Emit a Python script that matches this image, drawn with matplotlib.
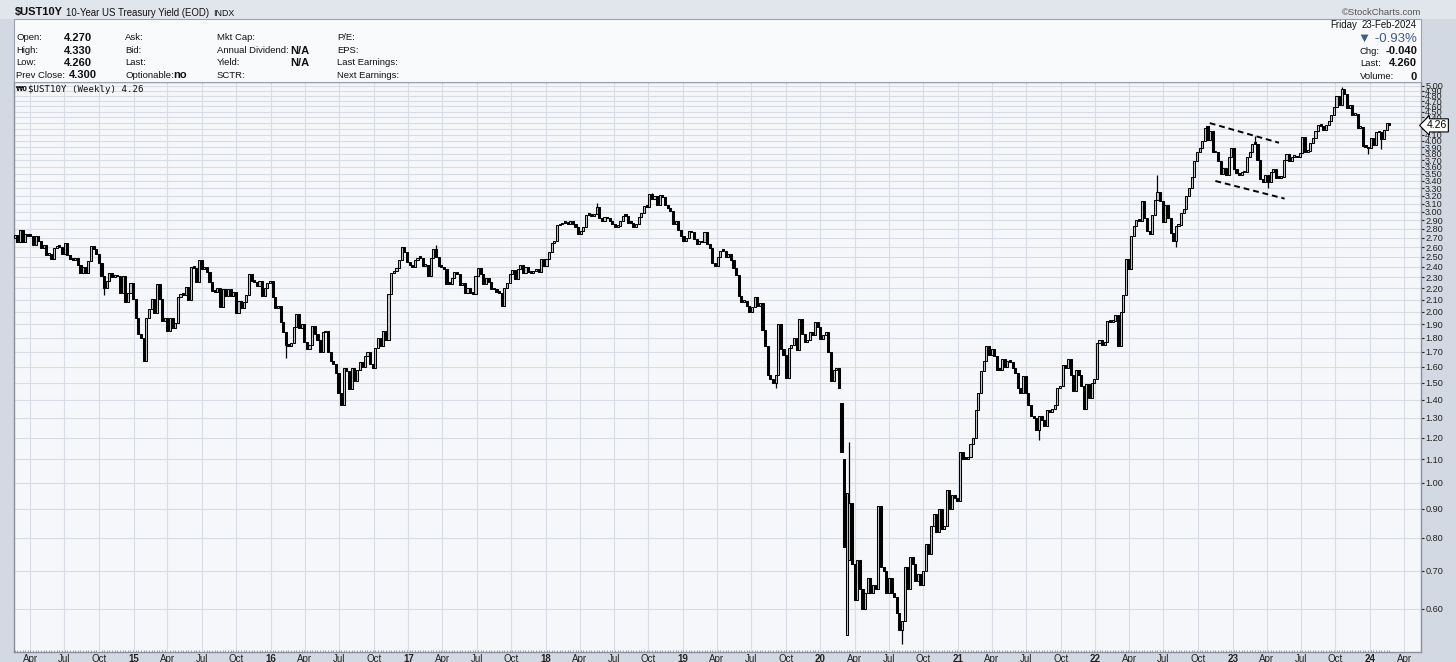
import datetime as dt
import numpy as np
import matplotlib
matplotlib.use("Agg")
import matplotlib.pyplot as plt
import matplotlib.dates as mdates
from matplotlib.patches import Rectangle
from matplotlib.ticker import FixedLocator, NullLocator

W, H = 1456, 662

# ---------------- data (weekly, week ending Friday) ----------------
first_week_end = "2014-02-21"
first_open = 2.70

close_2014 = [2.73, 2.65, 2.79, 2.65, 2.74, 2.72, 2.72, 2.62, 2.72, 2.66, 2.59, 2.62, 2.52, 2.53, 2.48,
              2.59, 2.60, 2.60, 2.53, 2.64, 2.52, 2.48, 2.47, 2.49, 2.42, 2.34, 2.40, 2.34, 2.46, 2.61,
              2.58, 2.53, 2.44, 2.31, 2.20, 2.27, 2.34, 2.30, 2.32, 2.31, 2.16, 2.31, 2.08, 2.16, 2.25]
close_2015 = [2.11, 1.95, 1.83, 1.80, 1.64, 1.95, 2.02, 2.11, 1.99, 2.24, 2.11, 1.93, 1.95, 1.85, 1.95,
              1.87, 1.91, 2.12, 2.15, 2.14, 2.21, 2.10, 2.40, 2.39, 2.26, 2.47, 2.38, 2.40, 2.35, 2.26,
              2.18, 2.17, 2.20, 2.04, 2.19, 2.13, 2.19, 2.13, 2.17, 1.99, 2.09, 2.03, 2.08, 2.14, 2.33,
              2.27, 2.26, 2.22, 2.27, 2.13, 2.20, 2.25]
close_2016 = [2.27, 2.12, 2.03, 2.05, 1.92, 1.84, 1.75, 1.74, 1.76, 1.88, 1.98, 1.87, 1.90, 1.77, 1.72,
              1.75, 1.89, 1.83, 1.78, 1.70, 1.84, 1.85, 1.70, 1.64, 1.62, 1.56, 1.44, 1.37, 1.59, 1.57,
              1.46, 1.59, 1.51, 1.58, 1.63, 1.60, 1.67, 1.70, 1.62, 1.59, 1.73, 1.80, 1.74, 1.85, 1.78,
              2.15, 2.34, 2.36, 2.39, 2.47, 2.60, 2.55, 2.45]
close_2017 = [2.42, 2.40, 2.47, 2.49, 2.49, 2.41, 2.42, 2.31, 2.49, 2.58, 2.50, 2.41, 2.40, 2.38, 2.24,
              2.24, 2.29, 2.35, 2.33, 2.23, 2.25, 2.16, 2.20, 2.16, 2.15, 2.31, 2.39, 2.33, 2.24, 2.29,
              2.26, 2.19, 2.19, 2.17, 2.16, 2.05, 2.20, 2.25, 2.33, 2.37, 2.28, 2.38, 2.42, 2.34, 2.40,
              2.35, 2.34, 2.36, 2.38, 2.35, 2.48, 2.41]
close_2018 = [2.48, 2.55, 2.64, 2.66, 2.84, 2.85, 2.87, 2.87, 2.86, 2.89, 2.85, 2.82, 2.74, 2.77, 2.82,
              2.96, 2.96, 2.95, 2.97, 3.06, 2.93, 2.89, 2.94, 2.92, 2.89, 2.85, 2.82, 2.83, 2.89, 2.95,
              2.95, 2.87, 2.87, 2.82, 2.86, 2.94, 2.99, 3.07, 3.06, 3.23, 3.16, 3.20, 3.08, 3.21, 3.19,
              3.08, 3.05, 3.01, 2.85, 2.89, 2.79, 2.72]
close_2019 = [2.67, 2.70, 2.78, 2.76, 2.69, 2.63, 2.66, 2.65, 2.76, 2.63, 2.59, 2.44, 2.41, 2.50, 2.56,
              2.56, 2.50, 2.53, 2.47, 2.39, 2.32, 2.13, 2.08, 2.09, 2.05, 2.00, 2.04, 2.12, 2.05, 2.07,
              1.86, 1.74, 1.55, 1.52, 1.50, 1.55, 1.90, 1.72, 1.68, 1.53, 1.73, 1.75, 1.80, 1.71, 1.94,
              1.83, 1.77, 1.78, 1.84, 1.82, 1.92, 1.88]
close_2020 = [1.79, 1.82, 1.84, 1.70, 1.51, 1.58, 1.59, 1.47, 1.13, 0.77, 0.96, 0.92, 0.72, 0.62, 0.73,
              0.65, 0.60, 0.64, 0.68, 0.64, 0.66, 0.65, 0.91, 0.71, 0.70, 0.64, 0.68, 0.64, 0.63, 0.59,
              0.55, 0.57, 0.71, 0.65, 0.74, 0.72, 0.67, 0.69, 0.66, 0.70, 0.78, 0.75, 0.84, 0.88, 0.82,
              0.90, 0.83, 0.84, 0.97, 0.90, 0.95, 0.94]
close_2021 = [0.93, 1.13, 1.10, 1.10, 1.11, 1.17, 1.20, 1.34, 1.44, 1.57, 1.64, 1.74, 1.68, 1.72, 1.67,
              1.58, 1.58, 1.65, 1.60, 1.64, 1.63, 1.59, 1.56, 1.47, 1.44, 1.54, 1.44, 1.37, 1.31, 1.30,
              1.24, 1.31, 1.29, 1.26, 1.34, 1.33, 1.35, 1.37, 1.47, 1.48, 1.61, 1.59, 1.65, 1.55, 1.45,
              1.58, 1.55, 1.48, 1.35, 1.49, 1.41, 1.50, 1.52]
close_2022 = [1.76, 1.78, 1.75, 1.77, 1.93, 1.92, 1.93, 1.97, 1.74, 2.00, 2.14, 2.48, 2.38, 2.72, 2.83,
              2.90, 2.89, 3.13, 2.93, 2.78, 2.74, 2.96, 3.15, 3.25, 3.13, 2.88, 3.08, 2.93, 2.75, 2.67,
              2.83, 2.84, 2.98, 3.03, 3.20, 3.31, 3.45, 3.69, 3.83, 3.88, 4.00, 4.21, 4.02, 4.17, 3.82,
              3.83, 3.69, 3.50, 3.58, 3.48, 3.75, 3.88]
close_2023 = [3.57, 3.51, 3.48, 3.52, 3.53, 3.74, 3.82, 3.95, 3.95, 3.70, 3.43, 3.38, 3.48, 3.39, 3.52,
              3.57, 3.44, 3.44, 3.46, 3.70, 3.80, 3.69, 3.75, 3.77, 3.74, 3.81, 4.06, 3.83, 3.84, 3.96,
              4.05, 4.16, 4.26, 4.25, 4.18, 4.27, 4.33, 4.44, 4.59, 4.80, 4.63, 4.93, 4.84, 4.57, 4.63,
              4.44, 4.47, 4.22, 4.23, 3.92, 3.90, 3.88]
close_2024 = [4.05, 3.94, 4.15, 4.14, 4.03, 4.18, 4.30, 4.26]

# weeks whose open / extremes differ from the body (daily-close extremes)
open_marks = {"2020-02-28": 1.38, "2020-03-06": 1.10, "2020-03-13": 0.54, "2020-03-20": 0.73,
              "2022-10-28": 4.25}
high_marks = {"2017-03-17": 2.62, "2018-05-18": 3.11, "2020-03-20": 1.18, "2021-03-19": 1.74,
              "2022-06-17": 3.48, "2023-03-03": 4.08, "2023-10-20": 4.98, "2018-10-12": 3.24}
low_marks = {"2016-02-12": 1.66, "2019-09-06": 1.47, "2020-08-07": 0.52, "2021-08-06": 1.19,
             "2022-08-05": 2.60, "2023-04-07": 3.30, "2023-12-29": 3.79, "2024-02-02": 3.87,
             "2014-10-17": 2.14}

# drawn channel (trend lines)
channel_upper_dates = ["2022-11-01", "2023-05-04"]
channel_upper_vals = [4.30, 3.97]
channel_lower_dates = ["2022-11-16", "2023-05-19"]
channel_lower_vals = [3.40, 3.165]

y_ticks = [round(0.6 + 0.1 * i, 2) for i in range(45)]
last_value = 4.26

# ---------------- build OHLC ----------------
closes = np.array(close_2014 + close_2015 + close_2016 + close_2017 + close_2018 + close_2019 +
                  close_2020 + close_2021 + close_2022 + close_2023 + close_2024, dtype=float)
n = len(closes)
start = np.datetime64(first_week_end)
week_ends = start + np.arange(n) * np.timedelta64(7, "D")
keys = [str(d) for d in week_ends]
opens = np.r_[first_open, closes[:-1]]
for k, v in open_marks.items():
    if k in keys:
        opens[keys.index(k)] = v
highs = np.maximum(opens, closes)
lows = np.minimum(opens, closes)
for k, v in high_marks.items():
    if k in keys:
        i = keys.index(k); highs[i] = max(highs[i], v)
for k, v in low_marks.items():
    if k in keys:
        i = keys.index(k); lows[i] = min(lows[i], v)

xs = mdates.date2num(week_ends.astype("datetime64[D]").astype(dt.date)) - 2.0

# ---------------- figure ----------------
fig = plt.figure(figsize=(W / 100, H / 100), dpi=100)
fig.patch.set_facecolor("#d3d9e3")

def fx(x): return x / W
def fy(y): return 1 - y / H

# header band
fig.patches.append(Rectangle((0, fy(19)), 1, 19 / H, transform=fig.transFigure,
                             facecolor="#e1e5ec", edgecolor="none", zorder=0))
# info panel
fig.patches.append(Rectangle((fx(14), fy(82)), fx(1421 - 14), 63 / H, transform=fig.transFigure,
                             facecolor="#f9fafc", edgecolor="#9aa2b1", linewidth=0.8, zorder=1))

ax = fig.add_axes([fx(14), 1 - 652 / H, fx(1421 - 14), (652 - 82) / H])
ax.set_facecolor("#f6f7fb")

# x range (calendar based)
x0 = mdates.date2num(dt.date(2015, 1, 1))
dpp = 365.25 / 137.4
ax.set_xlim(x0 - 119.5 * dpp, x0 + 1287.5 * dpp)
ax.set_yscale("log")
ax.set_ylim(0.503, 5.08)

# grid / ticks
qt = []
for yr in range(2014, 2025):
    for m in (1, 4, 7, 10):
        d = dt.date(yr, m, 1)
        if dt.date(2014, 3, 1) <= d <= dt.date(2024, 4, 30):
            qt.append(d)
qx = mdates.date2num(qt)
qlabels = [(f"{d.year % 100:02d}" if d.month == 1 else d.strftime("%b")) for d in qt]
ax.xaxis.set_major_locator(FixedLocator(qx))
ax.set_xticklabels(qlabels)
for lab, d in zip(ax.get_xticklabels(), qt):
    if d.month == 1:
        lab.set_fontweight("bold")
ax.xaxis.set_minor_locator(FixedLocator(xs))
ax.yaxis.set_major_locator(FixedLocator(y_ticks))
ax.yaxis.set_minor_locator(NullLocator())
ax.set_yticklabels([f"{v:.2f}" for v in y_ticks])
ax.yaxis.tick_right()
ax.grid(True, which="major", axis="both", color="#d8dce4", linewidth=0.8, zorder=0)
ax.set_axisbelow(True)
ax.tick_params(axis="y", which="major", labelsize=6.6, length=2, pad=1, colors="#222222",
               labelfontfamily="Liberation Sans")
ax.tick_params(axis="x", which="major", labelsize=7, length=0, pad=1.5, colors="#222222",
               labelfontfamily="Liberation Sans")
ax.tick_params(axis="x", which="minor", length=1.5, direction="in", color="#8a8f99", width=0.6)
for s in ax.spines.values():
    s.set_color("#8a8f99")
    s.set_linewidth(1.0)

# candles
ax.vlines(xs, lows, highs, color="black", linewidth=0.9, zorder=2)
blo = np.minimum(opens, closes)
bhi = np.maximum(np.maximum(opens, closes), blo * 1.007)
up = closes > opens
ax.bar(xs[up], (bhi - blo)[up], bottom=blo[up], width=5.6, facecolor="#c8c8c8",
       edgecolor="black", linewidth=0.75, zorder=3)
ax.bar(xs[~up], (bhi - blo)[~up], bottom=blo[~up], width=5.6, facecolor="black",
       edgecolor="black", linewidth=0.75, zorder=3)

# channel lines
for dts, vals in ((channel_upper_dates, channel_upper_vals), (channel_lower_dates, channel_lower_vals)):
    ax.plot(mdates.date2num([dt.date.fromisoformat(d) for d in dts]), vals, color="black",
            linewidth=1.4, linestyle=(0, (3, 2)), zorder=4)

# last value marker on axis
ax.annotate(f"{last_value:.2f}", xy=(1.0, last_value), xycoords=("axes fraction", "data"),
            xytext=(4, 0), textcoords="offset points", va="center", ha="left", fontsize=7.5,
            fontfamily="Liberation Sans", color="black", zorder=6, annotation_clip=False,
            bbox=dict(boxstyle="larrow,pad=0.15", facecolor="white", edgecolor="black", linewidth=0.8))

# ---------------- header texts ----------------
SF = ["Liberation Sans", "DejaVu Sans"]
def T(x, y, s, size=6.8, weight="normal", ha="left", color="#111111", fam=SF):
    fig.text(fx(x), fy(y), s, fontsize=size, fontweight=weight, ha=ha, va="center",
             color=color, fontfamily=fam)

# chart label inside the plot
T(16, 89, "₩0", size=4.8, weight="bold", fam=["DejaVu Sans"])
T(28, 89, "$UST10Y (Weekly) 4.26", size=6.6, fam=["DejaVu Sans Mono"])

T(15, 12.5, "$UST10Y", size=8.0, weight="bold")
T(66, 12.5, "10-Year US Treasury Yield (EOD)", size=6.9)
T(213, 13, "INDX", size=6.4)
T(1421, 12.5, "©StockCharts.com", size=6.8, ha="right", color="#555555")

rows_y = [38, 50.5, 62.8, 75.5]
left_lbl = ["Open:", "High:", "Low:", "Prev Close:"]
left_val = ["4.270", "4.330", "4.260", "4.300"]
left_val_x = [64, 64, 64, 69]
for y, l, v, vx in zip(rows_y, left_lbl, left_val, left_val_x):
    T(16.5, y, l)
    T(vx, y, v, size=8, weight="bold")
col2 = ["Ask:", "Bid:", "Last:", "Optionable:"]
for y, l in zip(rows_y, col2):
    T(125, y, l)
T(173, rows_y[3], "no", size=8, weight="bold")
col3 = ["Mkt Cap:", "Annual Dividend:", "Yield:", "SCTR:"]
for y, l in zip(rows_y, col3):
    T(217, y, l)
T(290.5, rows_y[1], "N/A", size=8, weight="bold")
T(290.5, rows_y[2], "N/A", size=8, weight="bold")
col4 = ["P/E:", "EPS:", "Last Earnings:", "Next Earnings:"]
for y, l in zip(rows_y, col4):
    T(337, y, l)

T(1330, 25, "Friday", size=6.9)
T(1417, 25, "23-Feb-2024", size=6.9, ha="right")
T(1417, 38.5, "▼ -0.93%", size=9.5, ha="right", color="#3d5a8a")
T(1360, 51, "Chg:")
T(1417, 51, "-0.040", size=8, weight="bold", ha="right")
T(1360, 63.5, "Last:")
T(1417, 63.5, "4.260", size=8, weight="bold", ha="right")
T(1360, 76.5, "Volume:")
T(1417, 76.5, "0", size=8, weight="bold", ha="right")

fig.savefig("out.png", dpi=100, facecolor=fig.get_facecolor())
